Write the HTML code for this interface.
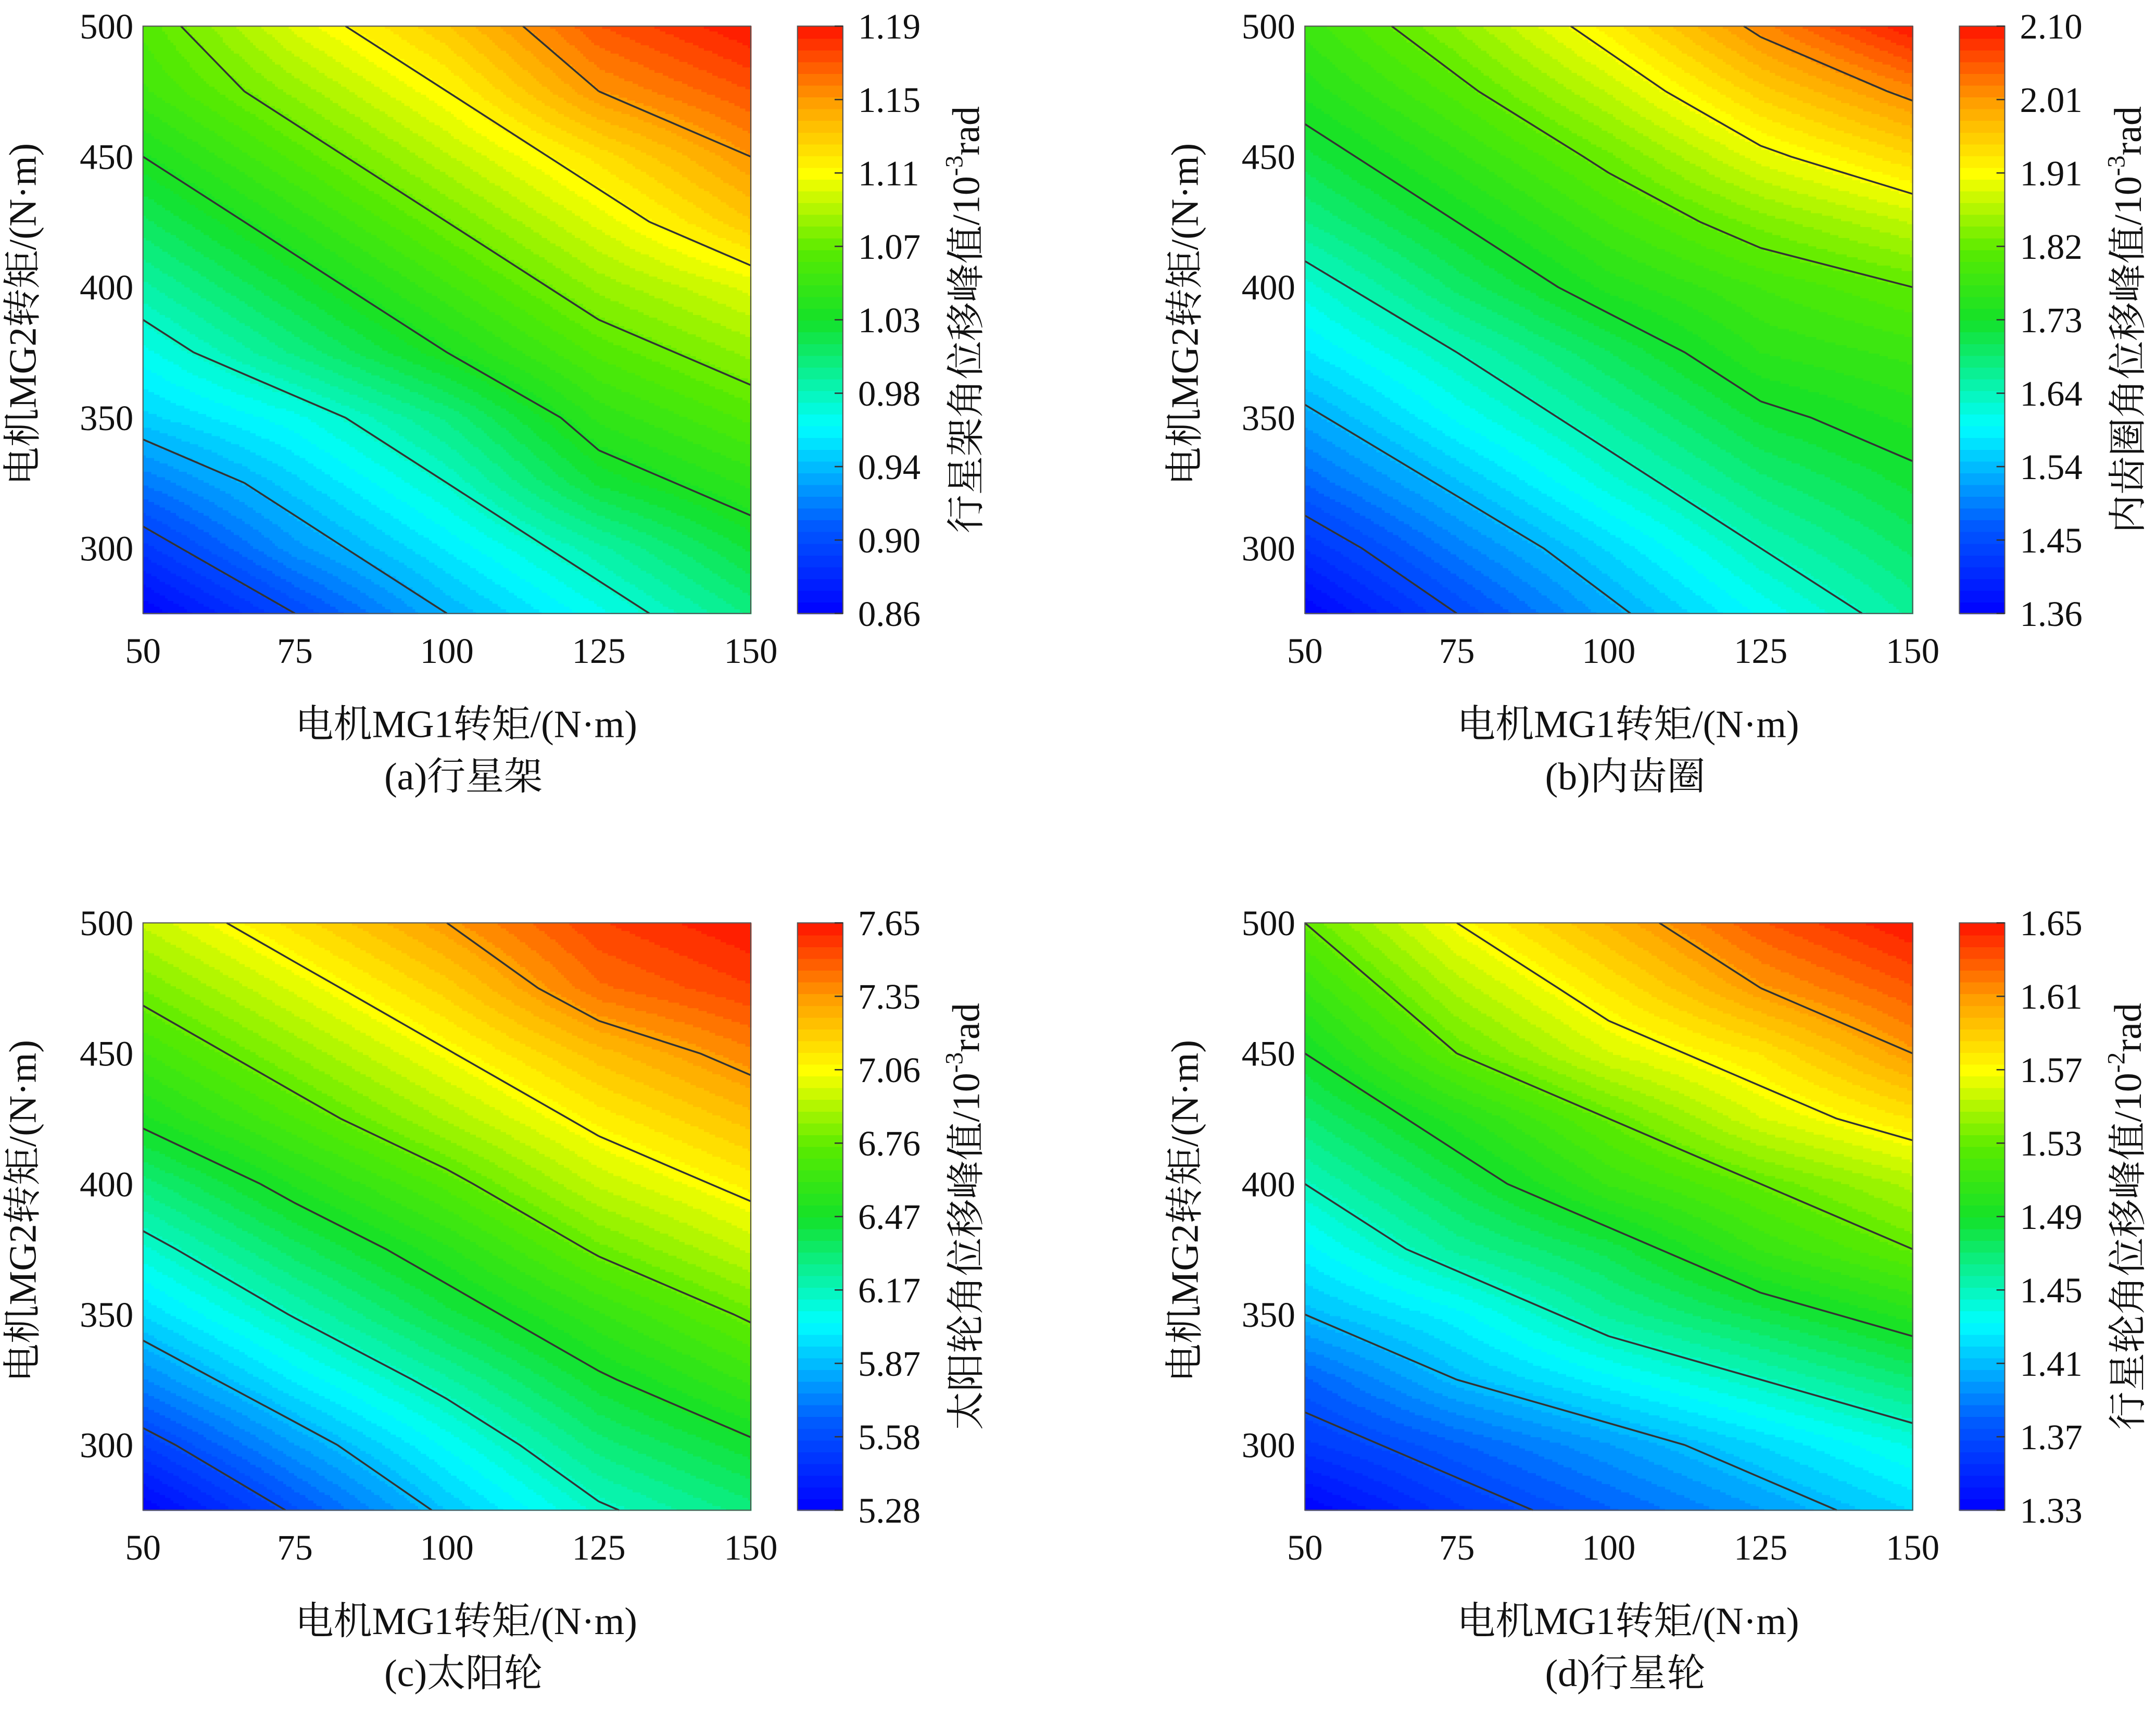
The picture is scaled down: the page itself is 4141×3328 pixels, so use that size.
<!DOCTYPE html>
<html><head><meta charset="utf-8">
<style>
html,body{margin:0;padding:0;background:#fff;}
svg{display:block;}
text{font-family:"Liberation Serif","Noto Serif CJK SC",serif;fill:#111;}
</style></head>
<body>
<svg id="fig" width="4141" height="3328" viewBox="0 0 1568 1260" preserveAspectRatio="none" xmlns="http://www.w3.org/2000/svg"></svg>
<script>
// shared axes data
const xCats = [50, 75, 100, 125, 150];
const yCats = [275, 300, 325, 350, 375, 400, 425, 450, 475, 500];
const xTicks = [50, 75, 100, 125, 150];
const yTicks = [300, 350, 400, 450, 500];
// panel values: rows = yCats (275 -> 500), cols = xCats
const valsA = [
 [0.86,0.90,0.94,0.97,1.00],[0.89,0.93,0.96,0.99,1.02],[0.92,0.95,0.98,1.02,1.04],
 [0.95,0.97,1.00,1.04,1.06],[0.97,1.00,1.03,1.06,1.08],[0.99,1.02,1.05,1.08,1.10],
 [1.01,1.04,1.07,1.10,1.13],[1.03,1.06,1.09,1.12,1.15],[1.05,1.08,1.11,1.15,1.17],
 [1.06,1.10,1.13,1.17,1.19]];
const valsB = [
 [1.36,1.45,1.53,1.60,1.66],[1.42,1.50,1.57,1.64,1.69],[1.48,1.55,1.62,1.68,1.72],
 [1.53,1.60,1.66,1.72,1.75],[1.58,1.64,1.70,1.76,1.78],[1.62,1.69,1.75,1.79,1.82],
 [1.67,1.73,1.79,1.84,1.88],[1.71,1.77,1.83,1.90,1.95],[1.75,1.81,1.88,1.96,2.02],
 [1.78,1.85,1.93,2.02,2.10]];
const valsC = [
 [5.28,5.60,5.90,6.15,6.30],[5.52,5.80,6.05,6.30,6.45],[5.75,6.00,6.22,6.45,6.62],
 [5.95,6.18,6.40,6.60,6.78],[6.12,6.35,6.55,6.78,6.95],[6.30,6.52,6.72,6.95,7.10],
 [6.50,6.70,6.90,7.10,7.25],[6.65,6.85,7.05,7.25,7.40],[6.80,7.00,7.20,7.45,7.55],
 [6.95,7.15,7.35,7.55,7.65]];
const valsD = [
 [1.33,1.36,1.38,1.40,1.42],[1.36,1.38,1.40,1.42,1.44],[1.38,1.41,1.43,1.45,1.47],
 [1.41,1.43,1.46,1.48,1.50],[1.43,1.46,1.48,1.51,1.53],[1.45,1.48,1.51,1.53,1.55],
 [1.47,1.50,1.53,1.56,1.58],[1.49,1.53,1.56,1.58,1.61],[1.51,1.55,1.58,1.61,1.63],
 [1.53,1.57,1.60,1.63,1.65]];
const cbTicksA = ["0.86","0.90","0.94","0.98","1.03","1.07","1.11","1.15","1.19"];
const cbTicksB = ["1.36","1.45","1.54","1.64","1.73","1.82","1.91","2.01","2.10"];
const cbTicksC = ["5.28","5.58","5.87","6.17","6.47","6.76","7.06","7.35","7.65"];
const cbTicksD = ["1.33","1.37","1.41","1.45","1.49","1.53","1.57","1.61","1.65"];
const cbTitles = ["行星架角位移峰值/10","内齿圈角位移峰值/10","太阳轮角位移峰值/10","行星轮角位移峰值/10"];
const cbExp = ["-3","-3","-3","-2"];
const captions = ["(a)行星架","(b)内齿圈","(c)太阳轮","(d)行星轮"];

const NS="http://www.w3.org/2000/svg";
const svg=document.getElementById('fig');
function mk(tag,attrs,parent){const e=document.createElementNS(NS,tag);for(const k in attrs)e.setAttribute(k,attrs[k]);(parent||svg).appendChild(e);return e;}

const stops=[[0,[0,0,255]],[0.15,[0,90,255]],[0.32,[0,255,255]],[0.5,[20,225,40]],[0.62,[90,235,0]],[0.75,[255,255,0]],[0.87,[255,160,0]],[1,[255,20,0]]];
function cmap(t){t=Math.max(0,Math.min(1,t));for(let i=1;i<stops.length;i++){if(t<=stops[i][0]){const a=stops[i-1],b=stops[i];const f=(t-a[0])/(b[0]-a[0]);return 'rgb('+a[1].map((v,j)=>Math.round(v+(b[1][j]-v)*f)).join(',')+')';}}return 'rgb(255,20,0)';}
const NB=50;
function band(t){return Math.min(NB-1,Math.max(0,Math.floor(t*NB)));}

function panel(px,py,vals,cbTicks,title,exp,caption,id){
  const W=442,H=427,x0=px,y0=py;
  const vmin=parseFloat(cbTicks[0]),vmax=parseFloat(cbTicks[cbTicks.length-1]);
  const sx=v=>x0+(v-50)/100*W;
  const sy=v=>y0+H-(v-275)/225*H;
  const g=mk('g',{},svg);
  
  
  function interp(X,Y){
    let fx=(X-50)/25,fy=(Y-275)/25;
    let i=Math.min(3,Math.max(0,Math.floor(fx))),j=Math.min(8,Math.max(0,Math.floor(fy)));
    const tx=fx-i,ty=fy-j;
    return vals[j][i]*(1-tx)*(1-ty)+vals[j][i+1]*tx*(1-ty)+vals[j+1][i]*(1-tx)*ty+vals[j+1][i+1]*tx*ty;
  }
  const fill=mk('g',{'shape-rendering':'crispEdges'},g);
  
  
  const cs=2;
  const ncol=Math.ceil(W/cs);
  for(let yy=0;yy<H;yy+=cs){
    const Y=500-(yy+cs/2)/H*225;
    const h=Math.min(cs,H-yy)+0.5;
    let runStart=0,runB=null;
    for(let c=0;c<=ncol;c++){
      let b=null;
      if(c<ncol){const xx=c*cs;const X=50+(xx+cs/2)/W*100;b=band((interp(X,Y)-vmin)/(vmax-vmin));}
      if(b!==runB){
        if(runB!==null){const xe=Math.min(c*cs,W);mk('rect',{x:x0+runStart,y:y0+yy,width:xe-runStart+0.5,height:h,fill:cmap((runB+0.5)/NB)},fill);}
        runStart=c*cs;runB=b;
      }
    }
  }
  // contour lines via marching squares on the data grid
  const lines=mk('g',{stroke:'#333',fill:'none','stroke-width':1.3},g);
  
  
  for(let k=1;k<cbTicks.length-1;k++){
    const L=parseFloat(cbTicks[k])+1e-7;let d='';
    for(let j=0;j<yCats.length-1;j++)for(let i=0;i<xCats.length-1;i++){
      const c=[[xCats[i],yCats[j],vals[j][i]],[xCats[i+1],yCats[j],vals[j][i+1]],[xCats[i+1],yCats[j+1],vals[j+1][i+1]],[xCats[i],yCats[j+1],vals[j+1][i]]];
      const pts=[];
      for(let e=0;e<4;e++){const a=c[e],b=c[(e+1)%4];
        if((a[2]>=L)!==(b[2]>=L)){const t=(L-a[2])/(b[2]-a[2]);pts.push([sx(a[0]+(b[0]-a[0])*t),sy(a[1]+(b[1]-a[1])*t)]);}}
      for(let p=0;p+1<pts.length;p+=2)d+='M'+pts[p][0].toFixed(1)+','+pts[p][1].toFixed(1)+'L'+pts[p+1][0].toFixed(1)+','+pts[p+1][1].toFixed(1);
    }
    if(d){const pl=mk('path',{d:d},lines);
      
      }
  }
  mk('rect',{x:x0,y:y0,width:W,height:H,fill:'none',stroke:'#555','stroke-width':0.8},g);
  xTicks.forEach(v=>{
    const t=mk('text',{x:sx(v),y:y0+H+36,'font-size':26,'text-anchor':'middle'},g);t.textContent=v;
    
    
  });
  yTicks.forEach(v=>{
    const t=mk('text',{x:x0-7,y:sy(v)+9,'font-size':26,'text-anchor':'end'},g);t.textContent=v;
    
    
  });
  const xt=mk('text',{x:x0+W/2+14,y:y0+H+90,'font-size':28,'text-anchor':'middle'},g);xt.textContent='电机MG1转矩/(N·m)';
  
  
  const cp=mk('text',{x:x0+W/2+12,y:y0+H+128,'font-size':28,'text-anchor':'middle'},g);cp.textContent=caption;
  
  
  const yt=mk('text',{x:0,y:0,'font-size':28,'text-anchor':'middle',transform:'translate('+(x0-78)+','+(y0+H/2-4)+') rotate(-90)'},g);yt.textContent='电机MG2转矩/(N·m)';
  
  
  const cbx=x0+476,cbw=33;
  const cb=mk('g',{'shape-rendering':'crispEdges'},g);
  
  
  for(let b=0;b<NB;b++){mk('rect',{x:cbx,y:y0+H-(b+1)*H/NB,width:cbw,height:H/NB+0.6,fill:cmap((b+0.5)/NB)},cb);}
  mk('rect',{x:cbx,y:y0,width:cbw,height:H,fill:'none',stroke:'#555','stroke-width':0.8},g);
  cbTicks.forEach((s,k)=>{
    const yy=y0+H-k*H/(cbTicks.length-1);
    mk('line',{x1:cbx+cbw-6,x2:cbx+cbw,y1:yy,y2:yy,stroke:'#333','stroke-width':1},g);
    const t=mk('text',{x:cbx+cbw+11,y:yy+9,'font-size':26},g);t.textContent=s;
    
    
  });
  const ct=mk('text',{x:0,y:0,'font-size':28,'text-anchor':'middle',transform:'translate('+(cbx+132)+','+(y0+H/2)+') rotate(-90)'},g);
  
  
  const t1=document.createElementNS(NS,'tspan');t1.textContent=title;ct.appendChild(t1);
  const t2=document.createElementNS(NS,'tspan');t2.setAttribute('dy','-12');t2.setAttribute('font-size','18');t2.textContent=exp;ct.appendChild(t2);
  const t3=document.createElementNS(NS,'tspan');t3.setAttribute('dy','12');t3.textContent='rad';ct.appendChild(t3);
}
panel(104,19,valsA,cbTicksA,cbTitles[0],cbExp[0],captions[0],'a');
panel(949,19,valsB,cbTicksB,cbTitles[1],cbExp[1],captions[1],'b');
panel(104,671,valsC,cbTicksC,cbTitles[2],cbExp[2],captions[2],'c');
panel(949,671,valsD,cbTicksD,cbTitles[3],cbExp[3],captions[3],'d');
</script>
</body></html>
